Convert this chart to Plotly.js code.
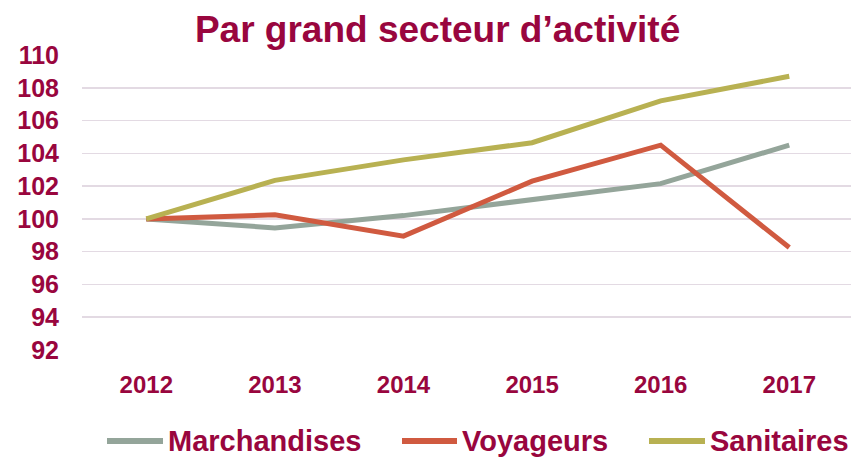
<!DOCTYPE html>
<html>
<head>
<meta charset="utf-8">
<script src="https://cdn.plot.ly/plotly-3.0.1.min.js"></script>
<style>
  html, body { margin: 0; padding: 0; background: #ffffff; }
  #chart { width: 851px; height: 460px; }
</style>
</head>
<body>
<div id="chart"></div>
<script>
// ---- Data ----
const years = ["2012", "2013", "2014", "2015", "2016", "2017"];
const seriesNames = ["Marchandises", "Voyageurs", "Sanitaires"];
const marchandises = [100, 99.45, 100.2, 101.2, 102.15, 104.5];
const voyageurs = [100, 100.25, 98.95, 102.3, 104.5, 98.25];
const sanitaires = [100, 102.35, 103.6, 104.65, 107.2, 108.7];
const yTicks = [92, 94, 96, 98, 100, 102, 104, 106, 108, 110];
const titleText = "Par grand secteur d’activité";

// ---- Style ----
const colors = ["#94A59A", "#D05A40", "#B8B152"];
const textColor = "#99063E";
const font = "Arial, 'Liberation Sans', sans-serif";

const values = [marchandises, voyageurs, sanitaires];
const traces = values.map((v, i) => ({
  x: years,
  y: v,
  name: seriesNames[i],
  type: "scatter",
  mode: "lines",
  line: { color: colors[i], width: 5 },
  showlegend: false,
  hoverinfo: "skip"
}));

// manual legend (long line samples like the reference)
const plotL = 82, plotR = 851, plotT = 55, plotB = 350;
const pw = plotR - plotL, ph = plotB - plotT;
const px = p => (p - plotL) / pw;
const py = p => (plotB - p) / ph;
const legendLines = [[107, 163], [402, 457], [649, 705]];
const legendY = 441;
const shapes = legendLines.map((s, i) => ({
  type: "line", xref: "paper", yref: "paper",
  x0: px(s[0]), x1: px(s[1]), y0: py(legendY), y1: py(legendY),
  line: { color: colors[i], width: 6 }
}));
const annotations = legendLines.map((s, i) => ({
  xref: "paper", yref: "paper",
  x: px(s[1] + 3), y: py(legendY),
  xanchor: "left", yanchor: "middle",
  text: "<b>" + seriesNames[i] + "</b>",
  showarrow: false,
  font: { family: font, size: 29, color: textColor }
}));

const layout = {
  width: 851, height: 460,
  margin: { l: plotL, r: 851 - plotR, t: plotT, b: 460 - plotB, autoexpand: false },
  paper_bgcolor: "#ffffff",
  plot_bgcolor: "#ffffff",
  title: {
    text: "<b>" + titleText + "</b>",
    font: { family: font, size: 37, color: textColor },
    x: 437.6 / 851, xanchor: "center", xref: "container",
    y: 1 - 28.7 / 460, yanchor: "middle", yref: "container"
  },
  xaxis: {
    type: "category",
    range: [-0.5, 5.48],
    showgrid: false, zeroline: false, showline: false,
    ticks: "",
    ticklabelstandoff: 18,
    tickfont: { family: font, size: 24, color: textColor },
    tickprefix: "<b>", ticksuffix: "</b>"
  },
  yaxis: {
    range: [92, 110],
    tickvals: yTicks,
    ticktext: yTicks.map(v => "<b>" + v + "</b>"),
    showgrid: true, gridcolor: "#E3DAE3", gridwidth: 1.5,
    zeroline: false, showline: false,
    ticks: "",
    ticklabelstandoff: 22,
    tickfont: { family: font, size: 25, color: textColor }
  },
  shapes: shapes,
  annotations: annotations,
  showlegend: false
};

Plotly.newPlot("chart", traces, layout, { staticPlot: true, displayModeBar: false });
</script>
</body>
</html>
